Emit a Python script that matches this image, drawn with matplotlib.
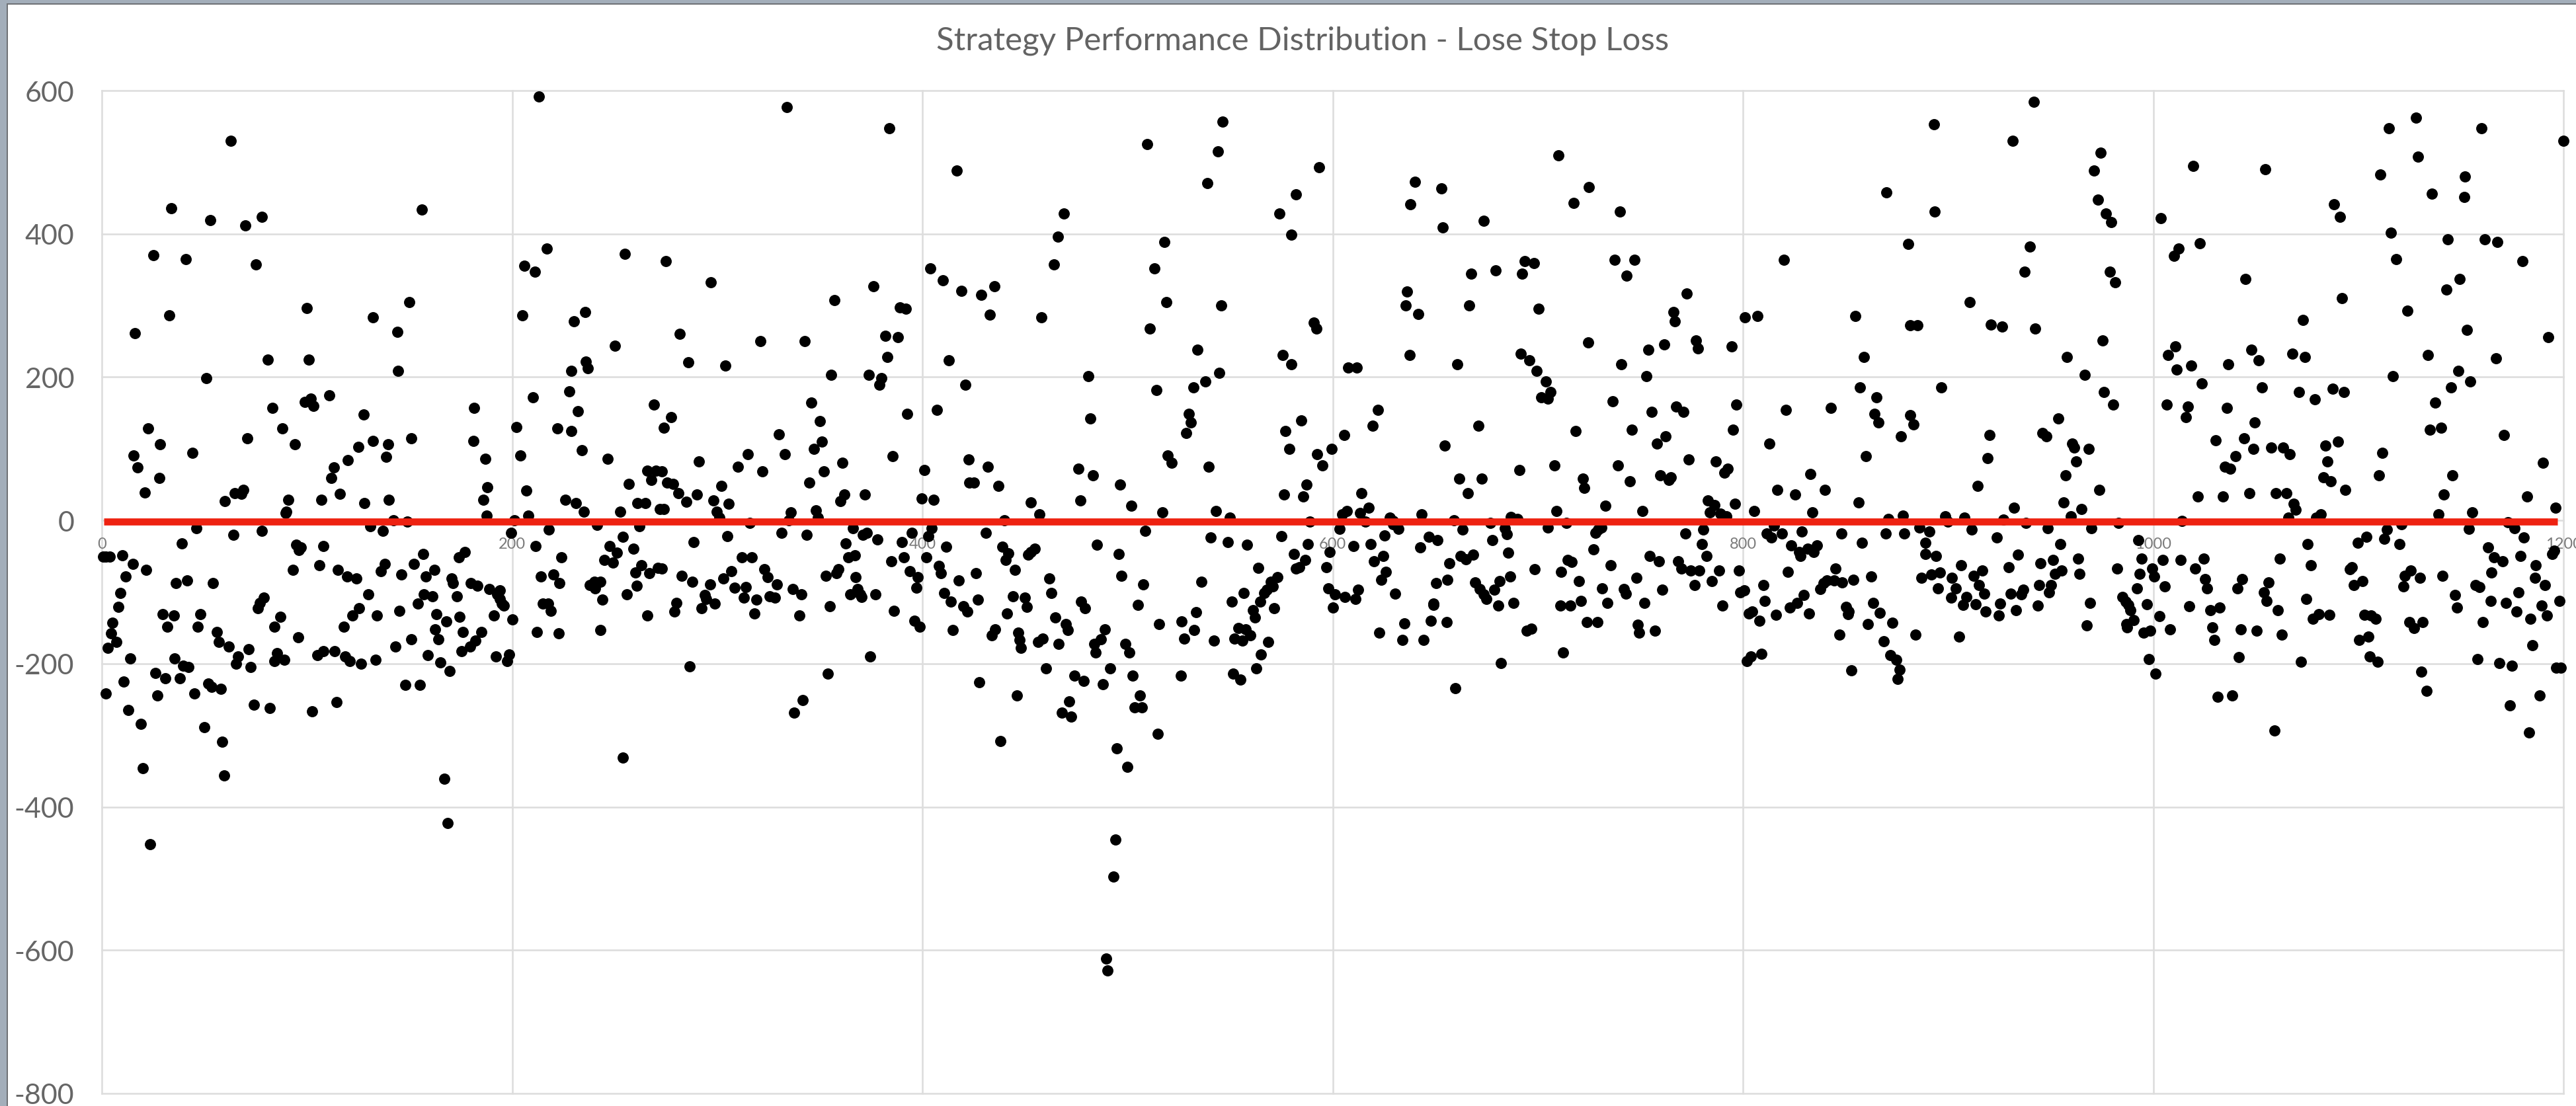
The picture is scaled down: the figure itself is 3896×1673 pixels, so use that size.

import matplotlib

matplotlib.use("Agg")
import matplotlib.pyplot as plt
from matplotlib.patches import Rectangle

WIDTH, HEIGHT = 3896, 1674
OUT_PNG = "out.png"

TITLE = "Strategy Performance Distribution - Lose Stop Loss"
X_TICKS = [0, 200, 400, 600, 800, 1000, 1200]
Y_TICKS = [-800, -600, -400, -200, 0, 200, 400, 600]
BREAK_EVEN_X = [1, 1197]
BREAK_EVEN_Y = [-2, -2]

# (trade number, result) pairs, one list per stretch of the chart
left_wins = [
    (62.8, 530), (213, 592), (34, 436), (53, 419), (70, 412), (78, 424), (156, 434), (25, 370), (41, 365), (75, 357),
    (217, 379), (206, 355), (211, 347), (255, 372), (33, 286), (16, 261), (100, 296), (132, 283), (150, 305), (144, 263),
    (205, 286), (230, 278), (235.5, 291), (250, 244), (81, 224), (101, 224), (144.5, 209), (51, 199), (236, 222), (237, 212),
    (229, 209), (210, 172), (228, 180), (269, 162), (102, 170), (99, 165), (103, 160), (111, 175), (83, 157), (181.5, 157),
    (232, 152), (127.5, 148), (22.5, 128), (88, 128), (202, 130), (222, 128), (229, 125), (71, 115), (151, 115), (28.5, 106),
    (94, 106), (139.5, 106), (132, 111), (181, 111), (125, 103), (44, 94), (15.6, 91), (204, 91), (234, 98), (138.6, 89),
    (187, 86), (246.6, 86), (120, 84), (17.5, 74), (113, 74), (112, 59), (28, 59), (266, 69), (270, 69), (268, 56),
    (257, 51), (188, 46), (69, 42.5), (64.7, 38), (68, 37), (21, 39), (116, 37), (207, 42), (60, 27), (91, 29),
    (107, 29), (140, 29), (128, 24), (186, 29), (226, 29), (231, 24), (261, 24), (265, 24), (90, 12), (89.5, 10),
    (235, 12), (252.6, 12), (187.5, 7), (208, 7), (272, 16), (142, 0), (149, -2), (201, 0), (241.5, -6), (46, -11),
    (218, -13), (131, -8), (137, -15), (262, -8), (78, -15), (64, -20), (199.4, -17), (254, -23), (39, -32),
]
left_losses = [
    (94.7, -34), (97, -38), (96, -41), (108, -36), (211.5, -36), (247.6, -36), (251, -45), (259, -40), (156.5, -47), (177, -44),
    (174, -52), (224, -52), (245, -55), (249, -59), (0.6, -51), (2, -51), (4, -51), (10, -49), (15, -61), (21.5, -69),
    (93, -69), (106, -63), (115, -69), (138, -61), (136, -71), (152, -61), (162, -69), (158, -78), (146, -76), (119.5, -78),
    (124, -81), (170.5, -81), (171, -88), (180, -88), (183, -91), (189, -96), (194, -98), (192.6, -103), (194, -110), (195, -116),
    (196, -119), (214, -78), (220, -76), (223, -88), (238, -90), (240, -86), (243, -86), (240.6, -95), (244, -111), (260, -73),
    (263, -63), (267, -74), (271, -66), (260.6, -91), (256, -103), (266, -133), (11.5, -78), (9, -101), (8, -121), (5, -143),
    (4.5, -158), (7, -170), (3, -178), (36, -88), (41.5, -84), (54, -88), (130, -103), (157, -103), (161, -106), (173, -106),
    (154, -116), (145, -126), (125.5, -123), (79, -108), (77, -115), (76, -123), (29.5, -131), (35, -133), (48, -131), (87, -135),
    (122, -133), (134, -133), (163, -131), (168, -141), (174.5, -135), (191, -133), (200, -138), (219, -126), (215, -116), (217.6, -116),
    (32, -148), (46.6, -148), (84, -148), (118, -148), (162.4, -152), (176, -156), (185, -156), (212, -156), (222.6, -158), (243, -153),
    (56, -156), (57, -170), (62, -176), (95.7, -163), (151, -166), (164, -166), (143, -176), (182, -168), (179.5, -176), (175.5, -183),
    (71.7, -180), (66.5, -190), (65.5, -200), (72.5, -205), (85.4, -185), (84, -196), (89, -195), (105, -188), (108, -183), (113.5, -183),
    (118.7, -190), (121, -196), (126.5, -200), (133.5, -195), (159, -188), (165, -198), (169.4, -210), (192, -190), (198.6, -187), (197.7, -196),
    (14, -193), (35.5, -193), (39.6, -203), (42.3, -205), (26, -213), (31, -220), (38, -220), (10.5, -225), (2, -242), (27, -244),
    (45, -242), (52, -228), (53.4, -232), (58, -235), (148, -230), (155, -230), (13, -265), (74, -257), (82, -262), (102.5, -267),
    (114.4, -254), (50, -289), (19, -284), (58.7, -309), (20, -346), (59.5, -356), (167, -361), (254, -331), (168.6, -423), (23.4, -452),
]
mid_left_wins = [
    (334, 577), (384, 547), (546.4, 557), (509.5, 525), (544, 515), (416.6, 488), (539, 470.5), (582, 455.5), (574, 428.5), (469, 428.5),
    (466, 396.5), (580, 399), (518, 389), (275, 362), (404, 352), (464, 357), (513, 352), (410, 335), (297, 332), (376, 327),
    (435, 327), (419, 320), (428.6, 315), (357, 307), (389, 297.5), (392, 295), (519, 305), (545.6, 300), (433, 287.5), (458, 283),
    (511, 268), (281.6, 260.6), (382, 258), (388, 255.5), (321, 250), (342.6, 250), (534, 238), (575.6, 230.5), (580, 218), (383, 228),
    (413, 223.5), (286, 221), (304, 216), (355.6, 203.5), (374, 203.5), (380, 199), (379, 189), (481, 201), (544.6, 206), (538, 194),
    (532, 186), (514, 181.5), (421, 189), (346, 164), (407, 154), (392.5, 149), (482, 142), (530, 149), (531, 137), (528.5, 122),
    (277.5, 144), (274, 129), (350, 139), (330, 120), (577, 124.5), (351, 110), (347, 100), (579, 100), (315, 92), (333, 92),
    (385.6, 90), (519.6, 91), (521.6, 80), (291, 82.5), (361, 80), (422.7, 85), (432, 75), (539.5, 75), (310, 75), (322, 68),
    (352, 68), (401, 70), (273, 68), (476, 72.5), (483, 62.6), (275.7, 52.6), (278.5, 50.7), (345, 52.6), (423, 52.6), (425, 52.6),
    (437, 48), (496.5, 50), (302, 48), (281, 37.6), (290, 36), (362, 36), (360, 27), (372, 36), (576.4, 36), (285, 26),
    (298, 28), (305.7, 23), (399.6, 31), (405.5, 29), (452.7, 25.5), (477, 28), (502, 20.6), (274, 15.5), (299.6, 12), (336, 11),
    (348, 14), (517, 11), (543, 13.5), (457, 8), (301, 4), (349, 4), (335, 0), (550, 4), (440, 0), (316, -4),
]
mid_left_losses = [
    (366, -11), (373, -17), (371, -20), (331.5, -17), (343.6, -20), (305, -22), (288.5, -30), (395, -17), (404.5, -11), (403, -22),
    (431, -17), (508.7, -15), (378, -27), (362.5, -32), (390, -30), (411.6, -37), (485, -34), (439, -37), (540.5, -24), (549, -30),
    (558.4, -34), (575, -22), (581, -47), (582, -67), (495.7, -47), (442, -46), (440.6, -55), (454.7, -40), (453, -44), (451.5, -47.5),
    (367, -49), (364, -52), (391, -52), (402, -52), (385, -57), (312, -52), (317, -52), (273, -67), (408, -63.5), (409, -74),
    (445, -69), (306.7, -71), (323, -68), (324.6, -79), (359, -68), (358, -74), (394, -71), (563.6, -66), (282.6, -77), (353, -77),
    (397.6, -79), (367.6, -79), (303, -81), (426, -74), (417.6, -84), (462, -81), (497, -77), (573, -79), (570, -86), (570.7, -92),
    (568, -97), (566.7, -101), (287.7, -86), (296.4, -89), (329, -89), (507.5, -89), (536, -86), (308.6, -94), (314, -93), (336.7, -96),
    (397, -94), (368.4, -95.5), (294, -104), (341, -103.5), (365, -103.5), (369.6, -103.5), (370.4, -107), (377, -103.5), (410.6, -101), (444, -106),
    (463, -101), (556.7, -101), (280, -115), (294.6, -110), (313, -108), (319, -111), (325.4, -106), (328, -108), (427, -111), (414, -113),
    (450, -108), (477.5, -113), (550.7, -113), (564.6, -113), (298.8, -116), (279, -127), (292.5, -123), (355, -120), (420, -120), (422, -127),
    (451, -121), (479.3, -123), (505, -118), (561, -125), (571.5, -123), (318, -130), (340, -133), (386, -126), (441.4, -130), (533.6, -128),
    (562, -135.5), (464.7, -135.5), (396, -140), (398.6, -148), (470, -145), (515.4, -145), (526.5, -141), (414.8, -153), (435.5, -152), (434, -160),
    (470.8, -153), (488.8, -152), (532.6, -153), (554, -150), (557.7, -152), (446.6, -157), (560, -160), (458.8, -165), (456.4, -170), (447.4, -167),
    (487, -166), (527.5, -165), (552, -165), (542, -167.5), (556, -168), (568.7, -170), (466.5, -172), (483.7, -172), (499, -172), (448, -178),
    (500.8, -184.5), (484.6, -184.5), (565, -187), (374.5, -190), (286.7, -204), (460.4, -207), (491.4, -207), (562.8, -207), (353.8, -214), (474, -216.5),
    (502.4, -217), (526, -217), (551.5, -214), (555, -222), (478.5, -224), (427.8, -226), (488, -229), (446, -244), (506, -244), (341.8, -251),
    (337.5, -268), (471.6, -253), (468, -268), (472.6, -274), (503.4, -261), (507, -261), (438, -308), (514.6, -298), (494.7, -318), (500, -344.5),
    (494, -446), (493, -497), (489.6, -612), (490.4, -628),
]
mid_right_wins = [
    (710, 510), (593.5, 493), (640, 473), (653, 463), (638, 441), (725, 465), (717.6, 443.5), (740, 431), (870, 458), (673.5, 418.6),
    (653.7, 409), (880.6, 386), (693.5, 361.6), (698, 359), (737.4, 364), (747, 364), (820, 364), (692.5, 344.5), (667.5, 344.5), (679.6, 349),
    (743.4, 342), (772.7, 317), (636.4, 319.6), (635.6, 300), (666.7, 300), (641.8, 288), (700.4, 295), (766, 291), (766.7, 277.6), (590.7, 276.4),
    (592, 268), (801, 283), (807, 285), (854.7, 285), (881.6, 272.5), (885, 272.5), (724.6, 248), (761.6, 245.6), (777, 250.7), (778, 240),
    (754, 238), (794.5, 243), (691.7, 233), (637.4, 230.5), (695.8, 223.5), (859, 228), (607.7, 213.5), (611.7, 213.5), (660.6, 218), (740.8, 218),
    (699.4, 208.7), (752.9, 201), (703.8, 193.7), (706.3, 179), (701.8, 171.5), (704.8, 170), (857.2, 186), (865, 171.5), (736.6, 166.5), (796.8, 161.6),
    (767.5, 159), (771, 151.7), (755.6, 151.7), (622, 154), (821, 154), (842.8, 157), (864, 149), (881.4, 147), (866, 136.6), (883, 134),
    (584.8, 139.4), (619.4, 132), (671, 132), (746, 127), (795.2, 127), (718.4, 124.5), (605.5, 119.6), (762.4, 117), (877, 117), (758, 107),
    (813, 107), (654.7, 104.6), (599.4, 100), (592.5, 92), (860, 90), (773.7, 85), (786.7, 82.5), (595, 77), (708, 77), (739, 77),
    (792.7, 72.5), (791, 67), (691, 70), (833, 65), (759.8, 62.6), (765, 59.8), (764, 56.6), (661.6, 58), (672.7, 58), (722, 58),
    (745, 55), (587.3, 50), (722.8, 45), (816.8, 42.8), (840, 42.8), (666, 37.6), (614, 37.6), (825.5, 36), (585.5, 33), (856.4, 25.5),
    (733, 20.6), (783, 28), (786, 21), (796, 23), (617.6, 18), (607, 13), (604.6, 8.7), (613.3, 10.7), (709, 13), (751, 13),
    (805.5, 13), (834, 11), (784, 11), (628, 4), (629.5, -1), (643.4, 8.3), (687, 5), (690, 2), (789, 9), (792, 6),
    (878, 7), (871, 2), (589, -2), (616, -2),
]
mid_right_losses = [
    (677, -3.4), (659, 0), (705, -10), (714, -4), (603.4, -12), (632, -12), (629.5, -5), (663.4, -13), (684, -11), (684.8, -19),
    (728, -17), (729.5, -13), (731, -10), (815, -7), (780.6, -13), (772, -18), (828.7, -16), (811.7, -18), (819, -18), (814, -24),
    (848, -18), (869.5, -18), (878.8, -18), (886, -10), (891, -16), (625.3, -21), (647, -23), (651, -28), (678, -28), (588, -33),
    (610, -36), (618.4, -33), (858, -31), (823.6, -35), (780, -33), (836, -35), (831.5, -40), (834.6, -44), (827.5, -44), (828, -50),
    (598.6, -44), (642.6, -38), (727, -40.5), (685.7, -45), (889, -31), (889, -47), (624.6, -50), (662.4, -50), (668.5, -48), (665, -54),
    (754.6, -50), (782.4, -50), (586.5, -55), (620, -57.5), (657, -60), (714.7, -55), (716.6, -58), (759, -57.5), (768.5, -57.5), (735.4, -63),
    (583.6, -65.5), (597, -65), (698.6, -68), (770, -67), (774.5, -70), (778.8, -70), (788.3, -70), (798, -70), (711.5, -72), (822, -72),
    (845, -67), (626, -72), (748, -80), (623.6, -82.5), (686.5, -78), (656, -82.5), (681.4, -85), (720, -85), (785, -85), (862.4, -78),
    (853.9, -82.5), (887, -80), (892, -76), (841, -84), (844.4, -84), (848.3, -87), (839.4, -88), (837.8, -96), (650.3, -88), (669.3, -87),
    (776.4, -90.5), (810, -90), (671.7, -96), (678.8, -97), (731.5, -95), (742, -96), (742.8, -102), (760.8, -97), (612.3, -97), (597.8, -95),
    (601, -103), (606, -107), (611, -110), (630.5, -102), (673.5, -103), (675, -110), (800.6, -98), (798.8, -100), (829.7, -104), (810.7, -112),
    (600, -122), (649, -116), (649.3, -118), (688, -115), (721, -112), (733.9, -115), (752, -115), (826.3, -115), (863.4, -115), (790, -119),
    (680.6, -119), (711, -119), (716, -119), (822.8, -122), (804.6, -127), (803, -130), (832.3, -130), (850.3, -121), (851.7, -127), (851.3, -131),
    (816, -132), (866.7, -129), (648, -140), (655.6, -142), (634.9, -144), (723.8, -142), (729, -142), (808, -140), (860.8, -145), (872.9, -142.5),
    (748.7, -145.6), (749.5, -157), (757.2, -154), (696.8, -151), (694.5, -154), (622.8, -157), (633.9, -167), (644.4, -167), (847, -159.5), (884, -159.5),
    (868.5, -169), (712.3, -184), (809, -186), (803.8, -190), (802, -196), (872, -188), (874.7, -195), (876.3, -208), (875.4, -221), (682, -199),
    (853, -209), (659.8, -234),
]
right_wins = [
    (941.8, 584), (893, 552.5), (1128, 562), (1115, 547), (1160, 547), (1200, 530), (931.5, 530), (974.5, 513), (1129, 508), (1019.4, 495),
    (1054.7, 490), (971, 488), (1110.7, 483), (1152, 480), (1136, 456), (973, 448), (1151.5, 451), (1088, 441), (893.5, 431), (977, 428.5),
    (979.6, 416), (1091, 424), (1003.8, 421.5), (1116, 401.6), (1022.8, 386.5), (940, 382), (1143.6, 392), (1161.6, 392), (1167.7, 389), (1012.5, 379.4),
    (1010, 369), (1118.6, 364.4), (1180, 362), (937.4, 347), (978.8, 347), (981.4, 332), (1045, 337), (1149.5, 337), (1142.8, 322), (910.7, 305),
    (1092, 310), (1123.8, 293), (921, 273), (926.3, 270.5), (942.6, 268), (1072.9, 280), (1153, 266), (1192.7, 256), (975.4, 251), (1010.7, 243),
    (1048, 238), (1007.3, 230.5), (1067.7, 233), (1134, 230.5), (958, 228), (1073.9, 228), (1167, 226), (1051.3, 223.5), (1036.6, 218), (1018.6, 216),
    (1011.5, 211), (1148.7, 209), (966.7, 203.5), (1116.8, 201), (1154.7, 194), (1023.6, 191), (896.8, 186), (1053, 186), (1145.3, 186), (1087.5, 184),
    (1071, 179), (1092.9, 179), (976, 179), (1078.8, 169), (1137.6, 164), (980.6, 161.6), (1006.5, 161.6), (1016.8, 159), (1035.8, 156.6), (1015.8, 144),
    (953.9, 142), (1049.5, 136.6), (1134.9, 127), (1140.4, 129), (920.2, 119.6), (946, 122), (948, 117), (1171, 119.6), (1030.5, 112), (1044.4, 114.5),
    (1090, 110), (960.6, 107), (961.6, 102), (968.5, 100), (1048.7, 100), (1057.4, 102), (1063.4, 102), (1084, 104.6), (1066.7, 92), (1111.7, 94.6),
    (1040, 90), (919.4, 87), (962.6, 82.5), (1085, 82.5), (1190, 80), (1034.9, 75), (1037.4, 72), (957.2, 62.6), (1110, 62.6), (1146, 62.6),
    (1083, 60), (1086.7, 55), (914.3, 48), (973.7, 42.8), (1093.5, 42.8), (1047, 38), (1059.8, 38), (1065, 38), (1021.8, 33), (1034, 33),
    (1141.8, 36), (1182.4, 33), (1068.5, 23), (956.2, 25.5), (1069.3, 15), (932.3, 18), (965, 15.5), (1196, 18), (1155.6, 11), (1139, 8.3),
    (1081.6, 8.3), (1079.6, 4), (959.8, 6), (898.6, 6), (908, 4), (899.8, -2), (927, 1), (1066, 4), (1014, -1), (938, -4),
    (983, -4), (1121, -5), (1173, -3),
]
right_losses = [
    (911.5, -13), (948.7, -11), (970, -11), (1153.9, -12), (1114, -13), (1176, -11), (1180.6, -23.5), (923.8, -23.5), (1104, -23), (1112.7, -26),
    (1099.6, -31), (1120, -33), (1075.4, -33), (954.7, -33), (992.7, -27.5), (1163.4, -38), (1194.5, -47), (1195.4, -42), (934, -48), (894, -50),
    (1179, -50), (1166, -52), (1170.3, -57.5), (963.4, -53), (994.3, -53), (1004.6, -55), (1013.3, -55), (1024.6, -53), (1061.6, -53), (951.3, -55),
    (945, -60), (1077, -63), (906.3, -63), (929.7, -65), (982.4, -67), (999.4, -67), (1020.4, -67), (1096.8, -65), (1096, -68), (1186.5, -63),
    (916.6, -70), (955.4, -70), (952, -75), (896, -73), (1125.5, -70), (1122.8, -77), (1165, -73), (964, -75), (993.5, -75), (1000.4, -78.5),
    (1141, -77.6), (902, -80), (912.5, -77.6), (1130, -80), (1186, -80), (1025.3, -82), (1043.4, -82), (1102, -85), (1056.4, -87), (1191, -90),
    (915, -90), (944.4, -90), (950.3, -90), (1005.5, -92), (1097.8, -90.6), (1157, -90.6), (1159, -93), (1122, -92.4), (895.2, -95), (903.8, -94.6),
    (992, -95), (1026.3, -95), (1041, -95), (936.6, -97), (1178, -100), (1053.9, -100), (949.3, -100), (930.5, -102), (917.6, -102), (935.8, -103),
    (1147, -104), (908.9, -107), (901.4, -108), (985, -107), (1074.7, -110), (1055.2, -112), (1164.4, -112), (1172, -115), (1198, -112), (969.3, -115),
    (986.5, -113), (925.3, -116), (907.3, -118), (913.3, -117), (997, -117), (988, -118), (1189.3, -119), (943.6, -119), (1017.6, -120), (1148, -122),
    (1032.3, -122), (1028, -125), (989, -125), (933, -125), (1060.8, -125), (1177.2, -127), (918.4, -127), (1080.6, -131), (1086, -132), (1078, -137),
    (1103, -132), (1106.3, -133), (1108.3, -137), (1191.9, -133), (924.6, -133), (1003, -134), (1184, -137), (990.5, -139), (1124.8, -142), (1131.5, -142),
    (1160.8, -142), (987, -145), (967.7, -146.5), (987.3, -149), (1127, -150), (1029, -149), (1042.8, -152), (1050.5, -154), (1008.3, -152), (998.6, -154),
    (995.2, -157), (905.3, -162), (1104.8, -162), (1100.4, -167), (1062.6, -159.5), (1029.7, -167), (1185, -174), (1041.8, -191), (997.8, -194), (1105.5, -190),
    (1109.3, -197), (1158.2, -194), (1071.9, -197), (1168.7, -199), (1174.7, -203), (1196.4, -206), (1198.8, -206), (1001, -214), (1130.7, -211), (1133.3, -238),
    (1031.5, -246), (1038.4, -244), (1188.3, -244), (1173.9, -258), (1059.2, -293), (1183.2, -296),
]


def main():
    plt.rcParams["font.family"] = ["Lato", "DejaVu Sans"]
    plt.rcParams["axes.unicode_minus"] = False
    fig = plt.figure(figsize=(WIDTH / 100, HEIGHT / 100), dpi=100, facecolor="white")
    ax = fig.add_axes([154 / WIDTH, 1 - 1655 / HEIGHT, (3877 - 154) / WIDTH, (1655 - 138) / HEIGHT])

    # window edge of the screenshot
    for x0, y0, w, h, colour in [
        (0, 0, 10, HEIGHT, "#A3AEBA"),
        (10, 6, 2, HEIGHT - 6, "#6E7175"),
        (0, 0, WIDTH, 6, "#A3AEBA"),
        (10, 6, WIDTH - 10, 2, "#6E7175"),
    ]:
        fig.add_artist(Rectangle((x0 / WIDTH, 1 - (y0 + h) / HEIGHT), w / WIDTH, h / HEIGHT,
                                 transform=fig.transFigure, facecolor=colour, edgecolor="none"))

    points = left_wins + left_losses + mid_left_wins + mid_left_losses
    points += mid_right_wins + mid_right_losses + right_wins + right_losses
    xs = [p[0] for p in points]
    ys = [p[1] for p in points]
    ax.plot(xs, ys, linestyle="none", marker="o", markersize=12.2, markerfacecolor="black",
            markeredgewidth=0, clip_on=False, zorder=3)
    ax.plot(BREAK_EVEN_X, BREAK_EVEN_Y, color="#EE2211", linewidth=7.7, solid_capstyle="butt", clip_on=False, zorder=4)

    ax.set_xlim(0, 1200)
    ax.set_ylim(-800, 600)
    ax.set_xticks(X_TICKS)
    ax.set_yticks(Y_TICKS)
    ax.set_axisbelow(True)
    ax.grid(True, color="#DDDDDD", linewidth=1.9, clip_on=False)
    for side in ["top", "right", "left"]:
        ax.spines[side].set_visible(False)
    ax.spines["bottom"].set_position(("data", 0))
    ax.spines["bottom"].set_visible(False)
    ax.tick_params(axis="x", length=0, pad=18, labelsize=17, labelcolor="#7A7A7A")
    ax.tick_params(axis="y", length=0, pad=30, labelsize=31, labelcolor="#666666")
    for label in ax.get_xticklabels():
        label.set_clip_on(False)

    fig.text(1970 / WIDTH, 1 - 75 / HEIGHT, TITLE, ha="center", va="baseline", fontsize=35.5, color="#636363")
    fig.savefig(OUT_PNG, dpi=100, facecolor="white")
    plt.close(fig)


if __name__ == "__main__":
    main()
